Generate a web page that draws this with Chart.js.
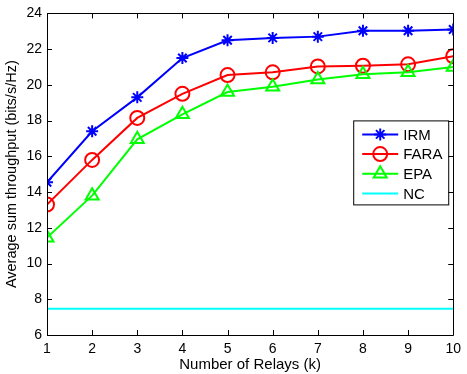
<!DOCTYPE html>
<html>
<head>
<meta charset="utf-8">
<script src="https://cdn.jsdelivr.net/npm/chart.js@4.4.1/dist/chart.umd.min.js"></script>
<style>
html,body{margin:0;padding:0;background:#fff;}
#wrap{width:467px;height:374px;}
</style>
</head>
<body>
<div id="wrap"><canvas id="c" width="467" height="374"></canvas></div>
<script>
const relays = [1,2,3,4,5,6,7,8,9,10];
const irm  = [14.55,17.4,19.3,21.5,22.5,22.63,22.7,23.03,23.03,23.1];
const fara = [13.3,15.8,18.15,19.5,20.55,20.7,21.03,21.07,21.15,21.6];
const epa  = [11.45,13.8,16.95,18.35,19.6,19.9,20.3,20.6,20.7,21.0];
const nc   = [7.47,7.47,7.47,7.47,7.47,7.47,7.47,7.47,7.47,7.47];
const seriesNames = ['IRM','FARA','EPA','NC'];
const yTicks = [6,8,10,12,14,16,18,20,22,24];

const FONT = '"Liberation Sans", Arial, Helvetica, sans-serif';
const mk = (arr) => arr.map((v,i)=>({x:relays[i], y:v}));

const boxTicks = {
  id:'boxTicks',
  afterDatasetsDraw(chart){
    const ctx = chart.ctx, a = chart.chartArea;
    const xs = chart.scales.x, ys = chart.scales.y;
    ctx.save();
    ctx.strokeStyle = '#000';
    ctx.lineWidth = 1;
    ctx.beginPath();
    ctx.rect(Math.round(a.left)+0.5, Math.round(a.top)+0.5, Math.round(a.right-a.left), Math.round(a.bottom-a.top));
    const L = 5;
    relays.forEach(v=>{
      const px = Math.round(xs.getPixelForValue(v))+0.5;
      ctx.moveTo(px, a.bottom); ctx.lineTo(px, a.bottom-L);
      ctx.moveTo(px, a.top); ctx.lineTo(px, a.top+L);
    });
    yTicks.forEach(v=>{
      const py = Math.round(ys.getPixelForValue(v))+0.5;
      ctx.moveTo(a.left, py); ctx.lineTo(a.left+L, py);
      ctx.moveTo(a.right, py); ctx.lineTo(a.right-L, py);
    });
    ctx.stroke();
    ctx.restore();
  }
};

const boxLegend = {
  id:'boxLegend',
  afterDraw(chart){
    const ctx = chart.ctx;
    const a = chart.chartArea;
    const bx = a.right - 100, by = a.top + 107, bw = 95, bh = 84;
    ctx.save();
    ctx.fillStyle = '#fff';
    ctx.fillRect(bx, by, bw, bh);
    ctx.strokeStyle = '#000';
    ctx.lineWidth = 1;
    ctx.strokeRect(bx+0.5, by+0.5, bw, bh);
    seriesNames.forEach((name,i)=>{
      const ds = chart.data.datasets.find(d=>d.label===name);
      const y = by + 14 + i*19.7;
      const x0 = bx + 9, x1 = bx + 45;
      ctx.strokeStyle = ds.borderColor;
      ctx.lineWidth = ds.borderWidth;
      ctx.beginPath(); ctx.moveTo(x0,y); ctx.lineTo(x1,y); ctx.stroke();
      if (ds.pointStyle && ds.pointRadius>0){
        ctx.lineWidth = ds.pointBorderWidth;
        ctx.strokeStyle = ds.borderColor;
        ctx.fillStyle = 'rgba(0,0,0,0)';
        Chart.helpers.drawPoint(ctx, {pointStyle: ds.pointStyle, radius: ds.pointRadius, borderWidth: ds.pointBorderWidth, rotation:0}, (x0+x1)/2, y);
      }
      ctx.fillStyle = '#000';
      ctx.font = '15px ' + FONT;
      ctx.textBaseline = 'middle';
      ctx.textAlign = 'left';
      ctx.fillText(ds.label, bx + 50, y+1);
    });
    ctx.restore();
  }
};

const colors = ['#0000ff','#ff0000','#00ff00','#00ffff'];
const styles = ['star','circle','triangle',false];
const radii = [6,7,7.5,0];
const allData = [irm, fara, epa, nc];

new Chart(document.getElementById('c'), {
  type:'line',
  data:{
    datasets: allData.map((d,i)=>({
      label: seriesNames[i],
      data: mk(d),
      borderColor: colors[i],
      backgroundColor: 'rgba(0,0,0,0)',
      borderWidth: 2,
      pointStyle: styles[i],
      pointRadius: radii[i],
      pointHoverRadius: radii[i],
      pointBorderWidth: 2,
      pointBorderColor: colors[i],
      pointBackgroundColor: 'rgba(0,0,0,0)',
      tension: 0
    })).reverse()
  },
  options:{
    responsive:false,
    animation:false,
    events:[],
    layout:{padding:{top:13,right:11,left:0,bottom:0}},
    plugins:{legend:{display:false}, tooltip:{enabled:false}},
    scales:{
      x:{
        type:'linear', min:1, max:10,
        afterBuildTicks(s){ s.ticks = relays.map(v=>({value:v})); },
        afterFit(s){ s.height = 39; },
        grid:{display:false, drawTicks:false},
        border:{display:false},
        ticks:{color:'#000', font:{family:FONT, size:14}, padding:6, maxRotation:0, autoSkip:false},
        title:{display:true, text:'Number of Relays (k)', color:'#000', font:{family:FONT, size:15}, padding:{top:0,bottom:0}}
      },
      y:{
        type:'linear', min:6, max:24,
        afterBuildTicks(s){ s.ticks = yTicks.map(v=>({value:v})); },
        afterFit(s){ s.width = 47; },
        grid:{display:false, drawTicks:false},
        border:{display:false},
        ticks:{color:'#000', font:{family:FONT, size:14}, padding:5, autoSkip:false},
        title:{display:true, text:'Average sum throughput (bits/s/Hz)', color:'#000', font:{family:FONT, size:14.5}, padding:{top:3,bottom:0}}
      }
    }
  },
  plugins:[boxTicks, boxLegend]
});
</script>
</body>
</html>
